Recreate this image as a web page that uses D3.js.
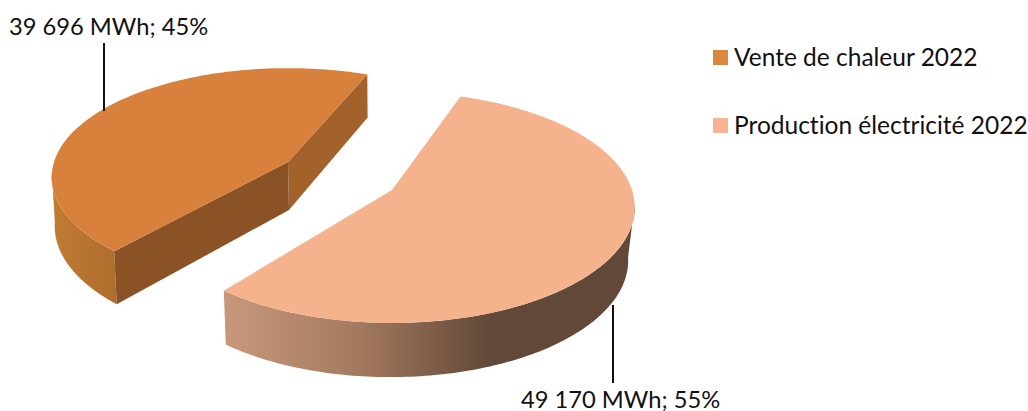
<!DOCTYPE html>
<html><head><meta charset="utf-8">
<script src="https://cdn.jsdelivr.net/npm/d3@7"></script>
<style>html,body{margin:0;background:#fff}svg{display:block}text{font-family:Lato,sans-serif;fill:#111;font-variant-ligatures:none}</style>
</head><body><svg id="c" width="1028" height="411"></svg>
<script>
const categories = ["Production électricité 2022", "Vente de chaleur 2022"];
const mwh = [49170, 39696];
const pctLabels = ["55%", "45%"];
const colors = ["#f4b28d", "#d7813c"];
const legendOrder = [1, 0];

const rad = d => d * Math.PI / 180;
const svg = d3.select("#c");
const defs = svg.append("defs");
const grad = (id, x1, x2, stops) => {
  const g = defs.append("linearGradient").attr("id", id).attr("gradientUnits", "userSpaceOnUse")
    .attr("x1", x1).attr("x2", x2).attr("y1", 0).attr("y2", 0);
  stops.forEach(s => g.append("stop").attr("offset", s[0]).attr("stop-color", s[1]));
};
grad("gs", 224, 490, [[0, "#c8987b"], [0.5, "#a47a5f"], [1, "#624838"]]);
grad("go", 58, 119, [[0, "#bf7a33"], [1, "#ad6b2d"]]);

const pie = d3.pie().sort(null).startAngle(rad(20)).endAngle(rad(380));
const arcs = pie(mwh);

const views = [
  { dTheta: rad(-1), p: 0.15,
    top: { x: 392, y: 190, rx: 240, ry: 113 },
    low: { x: 390.5, y: 243, rx: 235, ry: 114 },
    side: [rad(97), null], fill: "url(#gs)", faces: null },
  { dTheta: rad(2.5), p: 0.14,
    top: { x: 288, y: 162, rx: 234, ry: 107 },
    low: { x: 289, y: 210, rx: 232, ry: 113 },
    side: [null, rad(264)], fill: "url(#go)", faces: ["#a3622b", "#8a5225"] }
];

const project = (e, p, t) => {
  const k = 1 + p * Math.cos(t);
  return [e.x + e.rx * Math.sin(t) / k, e.y - e.ry * Math.cos(t) / k];
};
const line = d3.line();
const sample = (a, b) => d3.range(0, 121).map(i => a + (b - a) * i / 120);

arcs.forEach((d, i) => {
  const v = views[i];
  const a0 = d.startAngle + v.dTheta, a1 = d.endAngle + v.dTheta;
  const g = svg.append("g");
  const topArc = (a, b) => sample(a, b).map(t => project(v.top, v.p, t));
  const lowArc = (a, b) => sample(a, b).map(t => project(v.low, v.p, t));
  // outer wall
  const sa = v.side[0] === null ? a0 : v.side[0], sb = v.side[1] === null ? a1 : v.side[1];
  g.append("path").attr("d", line(topArc(sa, sb).concat(lowArc(sb, sa))) + "Z").attr("fill", v.fill);
  // cut faces
  if (v.faces) {
    const ta = [v.top.x, v.top.y], la = [v.low.x, v.low.y];
    g.append("path").attr("d", line([ta, project(v.top, v.p, a1), project(v.low, v.p, a1), la]) + "Z").attr("fill", v.faces[0]);
    g.append("path").attr("d", line([ta, project(v.top, v.p, a0), project(v.low, v.p, a0), la]) + "Z").attr("fill", v.faces[1]);
  }
  // top face
  g.append("path").attr("d", line([[v.top.x, v.top.y]].concat(topArc(a0, a1))) + "Z").attr("fill", colors[i]);
});

const fmt = n => d3.format(",")(n).replace(/,/g, " ");
const labelSpec = [
  { x: 521, y: 408, lx: 613, y1: 305, y2: 383 },
  { x: 9, y: 35, lx: 104, y1: 43, y2: 111 }
];
labelSpec.forEach((s, i) => {
  svg.append("line").attr("x1", s.lx).attr("x2", s.lx).attr("y1", s.y1).attr("y2", s.y2)
    .attr("stroke", "#111").attr("stroke-width", 2);
  svg.append("text").attr("x", s.x).attr("y", s.y).attr("font-size", 23.7)
    .text(`${fmt(mwh[i])} MWh; ${pctLabels[i]}`);
});

const legendY = d3.scalePoint().domain(legendOrder).range([57.5, 125.5]);
legendOrder.forEach(i => {
  const y = legendY(i);
  svg.append("rect").attr("x", 713).attr("y", y - 7.5).attr("width", 15).attr("height", 15)
    .attr("fill", i === 1 ? "#dc873f" : "#f8b48f");
  svg.append("text").attr("x", 734).attr("y", y + 8).attr("font-size", 24.5).text(categories[i]);
});
</script></body></html>
